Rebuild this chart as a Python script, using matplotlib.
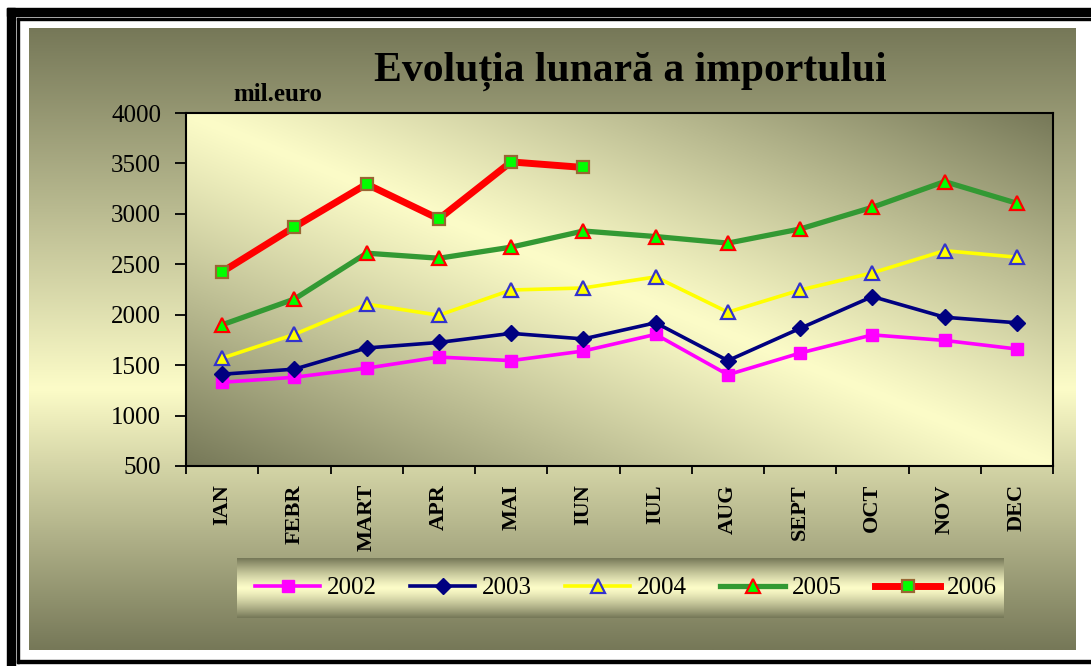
import numpy as np
import matplotlib
matplotlib.use('Agg')
import matplotlib.pyplot as plt
from matplotlib.patches import Rectangle

W, H = 1091, 666

luni = ['IAN', 'FEBR', 'MART', 'APR', 'MAI', 'IUN', 'IUL', 'AUG', 'SEPT', 'OCT', 'NOV', 'DEC']
v2002 = [1330, 1380, 1470, 1580, 1545, 1640, 1805, 1405, 1620, 1800, 1745, 1660]
v2003 = [1410, 1460, 1670, 1725, 1815, 1760, 1920, 1545, 1865, 2180, 1975, 1920]
v2004 = [1570, 1805, 2105, 1995, 2245, 2265, 2375, 2025, 2245, 2415, 2635, 2570]
v2005 = [1900, 2155, 2610, 2560, 2670, 2830, 2775, 2710, 2850, 3065, 3320, 3105]
v2006 = [2425, 2870, 3295, 2950, 3515, 3460]
ani = ['2002', '2003', '2004', '2005', '2006']
yticks = [500, 1000, 1500, 2000, 2500, 3000, 3500, 4000]

plt.rcParams['font.family'] = ['Liberation Serif', 'DejaVu Serif']

DARK = np.array([118, 120, 88]) / 255
LIGHT = np.array([252, 252, 200]) / 255


def rect(l, t, r, b):
    # pixel box (top-left origin) -> figure fraction
    return [l / W, 1 - b / H, (r - l) / W, (b - t) / H]


def blend(f):
    f = np.clip(f, 0, 1)[..., None]
    return LIGHT + (DARK - LIGHT) * f


fig = plt.figure(figsize=(W / 100, H / 100), dpi=100)
fig.patch.set_facecolor('white')

# black double frame
for (l, t, r, b) in [(7, 8, 1091, 16), (7, 8, 15, 666), (17, 18, 1091, 20),
                     (17, 18, 19, 663), (17, 660, 1091, 663)]:
    fig.patches.append(Rectangle((l / W, 1 - b / H), (r - l) / W, (b - t) / H,
                                 transform=fig.transFigure, color='black', zorder=0))

# chart area gradient (vertical)
bg = fig.add_axes(rect(29, 28, 1076, 650), zorder=-2)
tt = np.linspace(0, 1, 300)
f = np.where(tt < 0.58, 1 - tt / 0.58, (tt - 0.58) / 0.42)
bg.imshow(blend(f)[:, None, :].repeat(2, axis=1), aspect='auto', extent=(0, 1, 0, 1))
bg.set_axis_off()

# legend box gradient
lg = fig.add_axes(rect(237, 558, 1004, 618), zorder=-1)
tt = np.linspace(0, 1, 100)
f = np.abs(tt - 0.5) * 2
lg.imshow(blend(f ** 1.3)[:, None, :].repeat(2, axis=1), aspect='auto', extent=(0, 1, 0, 1))
lg.set_axis_off()

ax = fig.add_axes(rect(186, 113, 1053, 466))
uu, vv = np.meshgrid(np.linspace(0, 1, 400), np.linspace(1, 0, 200))
f = np.abs((uu + vv) / 2 - 0.5) * 2
ax.imshow(blend(f ** 1.1), aspect='auto', extent=(0, 1, 0, 1),
          transform=ax.transAxes, zorder=0)

x = np.arange(len(luni))
ax.plot(x, v2002, color='#ff00ff', lw=2.6, marker='s', ms=8, mfc='#ff00ff',
        mec='#ff00ff', label=ani[0], zorder=3)
ax.plot(x, v2003, color='#000080', lw=2.6, marker='D', ms=8, mfc='#000080',
        mec='#000080', label=ani[1], zorder=3)
ax.plot(x, v2004, color='#ffff00', lw=2.6, marker='^', ms=10, mfc='#ffff00',
        mec='#3333cc', mew=1.6, label=ani[2], zorder=3)
ax.plot(x, v2005, color='#339933', lw=3.8, marker='^', ms=10, mfc='#00ff00',
        mec='#ff0000', mew=1.6, label=ani[3], zorder=3)
ax.plot(x[:len(v2006)], v2006, color='#ff0000', lw=5, marker='s', ms=8,
        mfc='#00ff00', mec='#996633', mew=1.6, label=ani[4], zorder=4)

ax.set_xlim(-0.5, len(luni) - 0.5)
ax.set_ylim(500, 4000)
ax.set_yticks(yticks)
ax.set_yticklabels([str(v) for v in yticks], fontsize=18)
ax.set_xticks(np.arange(len(luni) + 1) - 0.5)
ax.set_xticklabels([])
ax.set_xticks(x, minor=True)
ax.set_xticklabels(luni, minor=True, rotation=90, fontsize=16, fontweight='bold', va='top')
ax.tick_params(axis='y', direction='out', length=8, width=1.3, pad=10)
ax.tick_params(axis='x', which='major', direction='out', length=6, width=1.3)
ax.tick_params(axis='x', which='minor', length=0, pad=13)
for s in ax.spines.values():
    s.set_linewidth(1.5)
    s.set_color('black')

fig.text(630 / W, 1 - 81 / H, 'Evoluția lunară a importului', ha='center', va='baseline',
         fontsize=30, fontweight='bold')
fig.text(233 / W, 1 - 101 / H, 'mil.euro', ha='left', va='baseline',
         fontsize=18, fontweight='bold')

fig.legend(loc='center', bbox_to_anchor=(626 / W, 1 - 588 / H), ncol=5, frameon=False,
           fontsize=18, handlelength=2.6, handletextpad=0.25, columnspacing=1.35,
           numpoints=1)

fig.savefig('out.png', dpi=100)
